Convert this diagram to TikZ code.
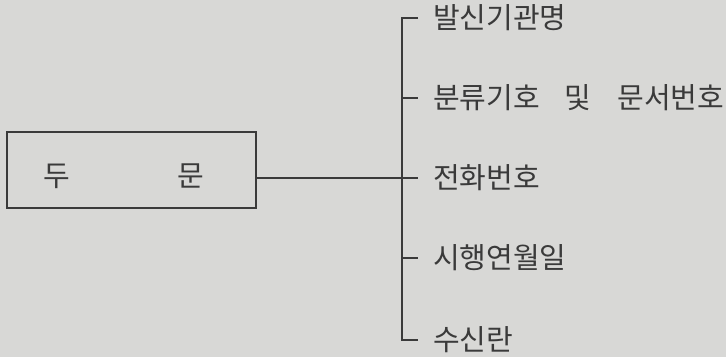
\documentclass[tikz,border=0pt]{standalone}
\usepackage{fontspec}
\setmainfont{Noto Sans CJK KR}
\definecolor{paper}{HTML}{D8D8D6}
\definecolor{ink}{HTML}{3A3A3A}
\begin{document}
\begin{tikzpicture}[x=1pt,y=-1pt,
  conn/.style={draw=ink,line width=1.9pt},
  lab/.style={anchor=west,inner sep=0pt,text=ink,font=\fontsize{29}{29}\selectfont},
  boxtext/.style={inner sep=0pt,text=ink,font=\fontsize{29}{29}\selectfont}]
\fill[paper] (0,0) rectangle (726,357);
\useasboundingbox (0,0) rectangle (726,357);
\node[draw=ink,line width=1.9pt,minimum width=249pt,minimum height=76pt,inner sep=0pt] (box) at (131.5,170) {};
\node[boxtext] (du) at (57,176) {두};
\node[boxtext] (mun) at (191,176) {문};
\coordinate (vtop) at (402,18);
\coordinate (vbot) at (402,340);
\coordinate (v2) at (402,98);
\coordinate (v3) at (402,178);
\coordinate (v4) at (402,258);
\node[lab] (l1) at (433,18) {발신기관명};
\node[lab] (l2) at (433,98) {분류기호\hspace{25pt}및\hspace{26pt}문서번호};
\node[lab] (l3) at (433,178) {전화번호};
\node[lab] (l4) at (433,258) {시행연월일};
\node[lab] (l5) at (433,340) {수신란};
\draw[conn] ([xshift=-15pt]l1.west) -- (vtop) -- (vbot) -- ([xshift=-15pt]l5.west);
\draw[conn] (v2) -- ([xshift=-15pt]l2.west);
\draw[conn] (box.east |- v3) -- ([xshift=-15pt]l3.west);
\draw[conn] (v4) -- ([xshift=-15pt]l4.west);
\end{tikzpicture}
\end{document}
